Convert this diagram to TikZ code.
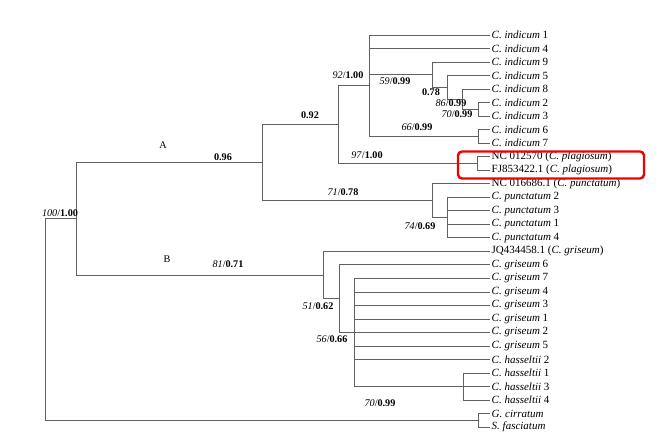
\documentclass[tikz,border=0pt]{standalone}
\usepackage{fontspec}
\setmainfont{Liberation Serif}
\tikzset{branch/.style = {draw=black!62, line width=0.8pt},
         leaf/.style = {anchor=west, inner sep=1.5pt, font=\fontsize{11}{12}\selectfont},
         support/.style = {inner sep=0pt, font=\fontsize{10.2}{12}\selectfont},
         hilite/.style = {draw=red!95!black, line width=2.4pt, rounded corners=4pt}}
\newcommand{\bsup}[2]{\textit{#1}/\textbf{#2}}

\begin{document}
\begin{tikzpicture}[x=1pt,y=-1pt]
\useasboundingbox (0,0) rectangle (671,438);

% internal nodes
\coordinate (root) at (45,218.8);
\coordinate (n100) at (76,218.8);
\coordinate (nA) at (262,162.6);
\coordinate (n92) at (338,124.6);
\coordinate (nInd) at (369,85.7);
\coordinate (n59) at (432,74.7);
\coordinate (n78) at (447,87.4);
\coordinate (n86) at (462,99.2);
\coordinate (n70i) at (478,109.35);
\coordinate (n66) at (478,136.4);
\coordinate (n97) at (477,163.45);
\coordinate (n71) at (432,200.6);
\coordinate (n74) at (447,217.5);
\coordinate (nB) at (323,274.95);
\coordinate (nGri) at (339,298.6);
\coordinate (n70b) at (354,332.45);
\coordinate (nHas) at (463,386.5);
\coordinate (nOut) at (478,420.35);

% leaves
\node[leaf] (ind1) at (490,35.0) {\textit{C. indicum} 1};
\node[leaf] (ind4) at (490,48.5) {\textit{C. indicum} 4};
\node[leaf] (ind9) at (490,62.0) {\textit{C. indicum} 9};
\node[leaf] (ind5) at (490,75.6) {\textit{C. indicum} 5};
\node[leaf] (ind8) at (490,89.1) {\textit{C. indicum} 8};
\node[leaf] (ind2) at (490,102.6) {\textit{C. indicum} 2};
\node[leaf] (ind3) at (490,116.1) {\textit{C. indicum} 3};
\node[leaf] (ind6) at (490,129.6) {\textit{C. indicum} 6};
\node[leaf] (ind7) at (490,143.2) {\textit{C. indicum} 7};
\node[leaf] (plag1) at (490,156.7) {NC 012570 (\textit{C. plagiosum})};
\node[leaf] (plag2) at (490,170.2) {FJ853422.1 (\textit{C. plagiosum})};
\node[leaf] (pun0) at (490,183.7) {NC 016686.1 (\textit{C. punctatum})};
\node[leaf] (pun2) at (490,197.2) {\textit{C. punctatum} 2};
\node[leaf] (pun3) at (490,210.8) {\textit{C. punctatum} 3};
\node[leaf] (pun1) at (490,224.3) {\textit{C. punctatum} 1};
\node[leaf] (pun4) at (490,237.8) {\textit{C. punctatum} 4};
\node[leaf] (gri0) at (490,251.3) {JQ434458.1 (\textit{C. griseum})};
\node[leaf] (gri6) at (490,264.8) {\textit{C. griseum} 6};
\node[leaf] (gri7) at (490,278.4) {\textit{C. griseum} 7};
\node[leaf] (gri4) at (490,291.9) {\textit{C. griseum} 4};
\node[leaf] (gri3) at (490,305.4) {\textit{C. griseum} 3};
\node[leaf] (gri1) at (490,318.9) {\textit{C. griseum} 1};
\node[leaf] (gri2) at (490,332.4) {\textit{C. griseum} 2};
\node[leaf] (gri5) at (490,345.9) {\textit{C. griseum} 5};
\node[leaf] (has2) at (490,359.5) {\textit{C. hasseltii} 2};
\node[leaf] (has1) at (490,373.0) {\textit{C. hasseltii} 1};
\node[leaf] (has3) at (490,386.5) {\textit{C. hasseltii} 3};
\node[leaf] (has4) at (490,400.0) {\textit{C. hasseltii} 4};
\node[leaf] (gcir) at (490,413.6) {\textit{G. cirratum}};
\node[leaf] (sfas) at (490,427.1) {\textit{S. fasciatum}};

% branches
\draw[branch] (root) |- (n100);
\draw[branch] (root) |- (nOut);
\draw[branch] (nOut) |- (gcir.west);
\draw[branch] (nOut) |- (sfas.west);

\draw[branch] (n100) |- (nA);
\draw[branch] (n100) |- (nB);

\draw[branch] (nA) |- (n92);
\draw[branch] (nA) |- (n71);
\draw[branch] (n92) |- (nInd);
\draw[branch] (n92) |- (n97);
\draw[branch] (nInd) |- (ind1.west);
\draw[branch] (nInd) |- (ind4.west);
\draw[branch] (nInd) |- (n59);
\draw[branch] (nInd) |- (n66);
\draw[branch] (n59) |- (ind9.west);
\draw[branch] (n59) |- (n78);
\draw[branch] (n78) |- (ind5.west);
\draw[branch] (n78) |- (n86);
\draw[branch] (n86) |- (ind8.west);
\draw[branch] (n86) |- (n70i);
\draw[branch] (n70i) |- (ind2.west);
\draw[branch] (n70i) |- (ind3.west);
\draw[branch] (n66) |- (ind6.west);
\draw[branch] (n66) |- (ind7.west);
\draw[branch] (n97) |- (plag1.west);
\draw[branch] (n97) |- (plag2.west);
\draw[branch] (n71) |- (pun0.west);
\draw[branch] (n71) |- (n74);
\draw[branch] (n74) |- (pun2.west);
\draw[branch] (n74) |- (pun3.west);
\draw[branch] (n74) |- (pun1.west);
\draw[branch] (n74) |- (pun4.west);

\draw[branch] (nB) |- (gri0.west);
\draw[branch] (nB) |- (nGri);
\draw[branch] (nGri) |- (gri6.west);
\draw[branch] (nGri) |- (n70b);
\draw[branch] (n70b) |- (gri7.west);
\draw[branch] (n70b) |- (gri4.west);
\draw[branch] (n70b) |- (gri3.west);
\draw[branch] (n70b) |- (gri1.west);
\draw[branch] (n70b) |- (gri2.west);
\draw[branch] (n70b) |- (gri5.west);
\draw[branch] (n70b) |- (has2.west);
\draw[branch] (n70b) |- (nHas);
\draw[branch] (nHas) |- (has1.west);
\draw[branch] (nHas) |- (has3.west);
\draw[branch] (nHas) |- (has4.west);

% support values
\node[support] (lA) at (163,145) {A};
\node[support] (lB) at (167,259) {B};
\node[support] (s100) at (60,213) {\bsup{100}{1.00}};
\node[support] (s96) at (223,157) {\textbf{0.96}};
\node[support] (s81) at (228,264) {\bsup{81}{0.71}};
\node[support] (s92a) at (310,115) {\textbf{0.92}};
\node[support] (s92b) at (348,75) {\bsup{92}{1.00}};
\node[support] (s59) at (395,81) {\bsup{59}{0.99}};
\node[support] (s78) at (431,92) {\textbf{0.78}};
\node[support] (s86) at (451,103) {\bsup{86}{0.99}};
\node[support] (s70i) at (457,114) {\bsup{70}{0.99}};
\node[support] (s66) at (417,127) {\bsup{66}{0.99}};
\node[support] (s97) at (367,155) {\bsup{97}{1.00}};
\node[support] (s71) at (343,192) {\bsup{71}{0.78}};
\node[support] (s74) at (420,226) {\bsup{74}{0.69}};
\node[support] (s51) at (318,306) {\bsup{51}{0.62}};
\node[support] (s56) at (332,339) {\bsup{56}{0.66}};
\node[support] (s70b) at (380,403) {\bsup{70}{0.99}};

% highlight box
\draw[hilite] (458,151.5) rectangle (644,178.5);
\end{tikzpicture}
\end{document}
